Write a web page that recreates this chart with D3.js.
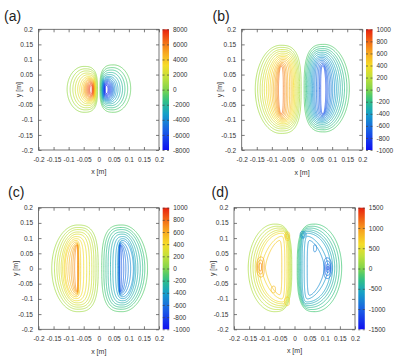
<!DOCTYPE html>
<html>
<head>
<meta charset="utf-8">
<script src="https://cdn.jsdelivr.net/npm/d3@7"></script>
<style>
  body { margin: 0; background: #fff; }
  svg { display: block; }
  text { font-family: "Liberation Sans", Arial, sans-serif; }
</style>
</head>
<body>
<svg id="chart" width="400" height="362"></svg>
<script>
// axis ticks (same for x and y in every panel)
const axisTicks = [-0.2, -0.15, -0.1, -0.05, 0, 0.05, 0.1, 0.15, 0.2];

// colour bar ticks per panel
const barTicksA = [-8000, -6000, -4000, -2000, 0, 2000, 4000, 6000, 8000];
const barTicksB = [-1000, -800, -600, -400, -200, 0, 200, 400, 600, 800, 1000];
const barTicksC = [-1000, -800, -600, -400, -200, 0, 200, 400, 600, 800, 1000];
const barTicksD = [-1500, -1000, -500, 0, 500, 1000, 1500];

// contour loops:
// [level, xmin, xmax, ymin, ymax, (where the top sits, 0 outer .. 1 inner), (outer roundness)]
const loopsA = [
  [500, -0.105, -0.004, -0.075, 0.077], [1000, -0.095, -0.006, -0.067, 0.069],
  [1500, -0.086, -0.008, -0.060, 0.062], [2000, -0.078, -0.010, -0.053, 0.055],
  [2500, -0.070, -0.011, -0.047, 0.049], [3000, -0.063, -0.012, -0.042, 0.043],
  [3500, -0.057, -0.013, -0.038, 0.039], [4000, -0.052, -0.014, -0.035, 0.036],
  [4500, -0.048, -0.015, -0.032, 0.033], [5000, -0.045, -0.016, -0.029, 0.030],
  [5500, -0.042, -0.017, -0.026, 0.027], [6000, -0.039, -0.018, -0.023, 0.024],
  [6500, -0.036, -0.019, -0.020, 0.021], [7000, -0.033, -0.020, -0.017, 0.018],
  [7500, -0.030, -0.022, -0.013, 0.014],
  [-500, 0.004, 0.106, -0.075, 0.082], [-1000, 0.006, 0.096, -0.067, 0.073],
  [-1500, 0.008, 0.087, -0.060, 0.065], [-2000, 0.010, 0.079, -0.053, 0.057],
  [-2500, 0.011, 0.071, -0.047, 0.050], [-3000, 0.012, 0.064, -0.042, 0.044],
  [-3500, 0.013, 0.058, -0.038, 0.040], [-4000, 0.014, 0.053, -0.035, 0.036],
  [-4500, 0.015, 0.049, -0.032, 0.033], [-5000, 0.016, 0.046, -0.029, 0.030],
  [-5500, 0.017, 0.043, -0.026, 0.027], [-6000, 0.018, 0.040, -0.023, 0.024],
  [-6500, 0.019, 0.037, -0.020, 0.021], [-7000, 0.020, 0.034, -0.017, 0.018],
  [-7500, 0.022, 0.031, -0.013, 0.014]
];

const loopsB = [
  [100, -0.155, -0.003, -0.145, 0.147], [150, -0.147, -0.008, -0.137, 0.140],
  [200, -0.139, -0.012, -0.130, 0.133], [250, -0.132, -0.016, -0.124, 0.127],
  [300, -0.125, -0.020, -0.118, 0.121], [350, -0.118, -0.024, -0.113, 0.115],
  [400, -0.112, -0.028, -0.108, 0.110], [450, -0.106, -0.032, -0.104, 0.105],
  [500, -0.100, -0.036, -0.100, 0.100], [550, -0.095, -0.041, -0.096, 0.095],
  [600, -0.090, -0.047, -0.092, 0.090], [650, -0.086, -0.052, -0.088, 0.086],
  [700, -0.082, -0.057, -0.084, 0.082], [750, -0.078, -0.062, -0.080, 0.078],
  [-100, 0.007, 0.157, -0.140, 0.150], [-150, 0.011, 0.149, -0.133, 0.143],
  [-200, 0.015, 0.141, -0.127, 0.136], [-250, 0.019, 0.134, -0.121, 0.130],
  [-300, 0.023, 0.127, -0.115, 0.124], [-350, 0.027, 0.120, -0.110, 0.118],
  [-400, 0.031, 0.114, -0.105, 0.112], [-450, 0.035, 0.108, -0.101, 0.107],
  [-500, 0.039, 0.102, -0.097, 0.102], [-550, 0.043, 0.097, -0.093, 0.097],
  [-600, 0.048, 0.092, -0.089, 0.092], [-650, 0.053, 0.087, -0.086, 0.087],
  [-700, 0.058, 0.083, -0.083, 0.083], [-750, 0.062, 0.079, -0.080, 0.079]
];

const loopsC = [
  [100, -0.156, -0.002, -0.142, 0.143], [150, -0.147, -0.009, -0.134, 0.135],
  [200, -0.139, -0.016, -0.127, 0.128], [250, -0.132, -0.023, -0.120, 0.120],
  [300, -0.125, -0.031, -0.113, 0.113], [350, -0.120, -0.040, -0.106, 0.105],
  [400, -0.115, -0.050, -0.099, 0.098, 0.6], [450, -0.112, -0.060, -0.093, 0.092, 0.7],
  [500, -0.106, -0.066, -0.088, 0.087, 0.8], [550, -0.099, -0.067, -0.084, 0.083, 0.85],
  [600, -0.092, -0.068, -0.081, 0.080, 0.85], [650, -0.086, -0.069, -0.078, 0.078, 0.85],
  [700, -0.080, -0.070, -0.076, 0.077, 0.85],
  [-100, 0.010, 0.162, -0.142, 0.143], [-150, 0.017, 0.153, -0.134, 0.135],
  [-200, 0.024, 0.146, -0.127, 0.128], [-250, 0.031, 0.138, -0.120, 0.120],
  [-300, 0.039, 0.130, -0.113, 0.113], [-350, 0.047, 0.123, -0.106, 0.105],
  [-400, 0.056, 0.118, -0.099, 0.098, 0.6], [-450, 0.063, 0.115, -0.093, 0.092, 0.7],
  [-500, 0.066, 0.106, -0.088, 0.087, 0.8], [-550, 0.067, 0.098, -0.084, 0.083, 0.85],
  [-600, 0.068, 0.090, -0.081, 0.080, 0.85], [-650, 0.069, 0.083, -0.078, 0.078, 0.85],
  [-700, 0.070, 0.076, -0.076, 0.077, 0.85]
];

const loopsD = [
  [200, -0.153, -0.009, -0.142, 0.146, 0.6], [275, -0.145, -0.012, -0.135, 0.139, 0.65],
  [350, -0.137, -0.015, -0.128, 0.133, 0.7], [425, -0.130, -0.018, -0.122, 0.127, 0.75],
  [500, -0.123, -0.021, -0.116, 0.122, 0.8], [575, -0.116, -0.025, -0.110, 0.116, 0.82],
  [650, -0.108, -0.032, -0.100, 0.106, 0.85, 1.6], [725, -0.096, -0.042, -0.086, 0.092, 0.85, 1.5],
  [800, -0.077, -0.063, -0.080, -0.058],
  [700, -0.032, -0.016, 0.092, 0.120], [750, -0.029, -0.019, 0.098, 0.114],
  [700, -0.033, -0.017, -0.122, -0.094],
  [900, -0.126, -0.100, -0.028, 0.038], [1000, -0.122, -0.105, -0.018, 0.028],
  [1100, -0.118, -0.109, -0.008, 0.018],
  [-200, 0.009, 0.156, -0.142, 0.146, 0.6], [-275, 0.012, 0.148, -0.135, 0.139, 0.65],
  [-350, 0.015, 0.140, -0.128, 0.133, 0.7], [-425, 0.018, 0.133, -0.122, 0.127, 0.75],
  [-500, 0.021, 0.126, -0.116, 0.122, 0.8], [-575, 0.025, 0.119, -0.110, 0.116, 0.82],
  [-650, 0.032, 0.111, -0.100, 0.106, 0.85, 1.6], [-725, 0.042, 0.099, -0.088, 0.092, 0.85, 1.5],
  [-700, 0.019, 0.039, 0.100, 0.122], [-750, 0.023, 0.035, 0.104, 0.117],
  [-800, 0.063, 0.073, 0.055, 0.078],
  [-900, 0.097, 0.124, -0.033, 0.035], [-1000, 0.101, 0.120, -0.023, 0.025],
  [-1100, 0.105, 0.117, -0.013, 0.015], [-1200, 0.108, 0.114, -0.005, 0.007]
];

// blue -> teal -> green -> yellow -> red
var palette = d3.scaleLinear()
  .domain([0, 0.15, 0.3, 0.42, 0.5, 0.6, 0.7, 0.82, 0.92, 1])
  .range(["#1010f0", "#1a5ae6", "#16a0c8", "#34c47c", "#80d44c", "#c0e03c",
          "#f5dc28", "#f7a020", "#f05a14", "#e8200e"])
  .clamp(true);

var panels = [
  {label: "(a)", lx: 4, ly: 21, loops: loopsA, bar: barTicksA,
   x0: 38.5, x1: 159, y0: 29.3, y1: 150, bx: 162.5, ylab: 18.3, xlab: 174},
  {label: "(b)", lx: 212.5, ly: 21, loops: loopsB, bar: barTicksB,
   x0: 241.7, x1: 362.3, y0: 29.3, y1: 150, bx: 366, ylab: 219.3, xlab: 174.5},
  {label: "(c)", lx: 8, ly: 196.5, loops: loopsC, bar: barTicksC,
   x0: 38.5, x1: 159, y0: 207.7, y1: 329.3, bx: 162.7, ylab: 15.5, xlab: 353.5},
  {label: "(d)", lx: 211.5, ly: 196.5, loops: loopsD, bar: barTicksD,
   x0: 234, x1: 355, y0: 207.7, y1: 329.3, bx: 358.3, ylab: 212, xlab: 353}
];

var svg = d3.select("#chart");
var defs = svg.append("defs");

// D-shaped closed loop: elliptic on the outer side, flatter on the side facing x = 0
function loopPoints(d, x, y) {
  var lo = d[1], hi = d[2], y0 = d[3], y1 = d[4];
  var f = d[5] === undefined ? 0.55 : d[5], k = d[6] || 2;
  var leftLobe = (lo + hi) / 2 < 0;
  var outer = leftLobe ? lo : hi, inner = leftLobe ? hi : lo;
  var xt = outer + f * (inner - outer);
  var cy = (y0 + y1) / 2, ry = (y1 - y0) / 2;
  return d3.range(0, 2 * Math.PI, Math.PI / 72).map(function(t) {
    var c = Math.cos(t), s = Math.sin(t);
    var n = c > 0 ? 3 : k;               // c > 0 -> inner side
    var u = Math.pow(Math.abs(c), 2 / n);
    var v = Math.sign(s) * Math.pow(Math.abs(s), 2 / n);
    var px = c > 0 ? xt + u * (inner - xt) : xt + u * (outer - xt);
    return [x(px), y(cy + ry * v)];
  });
}

panels.forEach(function(p, i) {
  var g = svg.append("g");
  var x = d3.scaleLinear().domain([-0.2, 0.2]).range([p.x0, p.x1]);
  var y = d3.scaleLinear().domain([-0.2, 0.2]).range([p.y1, p.y0]);
  var vmin = p.bar[0], vmax = p.bar[p.bar.length - 1];
  var level = d3.scaleLinear().domain([vmin, vmax]).range([0, 1]);

  // contours
  var line = d3.line().curve(d3.curveCardinalClosed.tension(0.5));
  g.append("g")
    .selectAll("path")
    .data(p.loops)
    .enter().append("path")
    .attr("d", function(d) { return line(loopPoints(d, x, y)); })
    .attr("fill", "none")
    .attr("stroke", function(d) { return palette(level(d[0])); })
    .attr("stroke-width", 0.75);

  // axes, ticks pointing inward on all four sides
  var fmt = function(d) { return String(d); };
  g.append("g").attr("transform", "translate(0," + p.y1 + ")")
    .call(d3.axisBottom(x).tickValues(axisTicks).tickSizeInner(-3).tickSizeOuter(0)
      .tickPadding(7).tickFormat(fmt));
  g.append("g").attr("transform", "translate(0," + p.y0 + ")")
    .call(d3.axisTop(x).tickValues(axisTicks).tickSizeInner(-3).tickSizeOuter(0).tickFormat(""));
  g.append("g").attr("transform", "translate(" + p.x0 + ",0)")
    .call(d3.axisLeft(y).tickValues(axisTicks).tickSizeInner(-3).tickSizeOuter(0)
      .tickPadding(5.5).tickFormat(fmt));
  g.append("g").attr("transform", "translate(" + p.x1 + ",0)")
    .call(d3.axisRight(y).tickValues(axisTicks).tickSizeInner(-3).tickSizeOuter(0).tickFormat(""));

  g.append("rect")
    .attr("x", p.x0).attr("y", p.y0)
    .attr("width", p.x1 - p.x0).attr("height", p.y1 - p.y0)
    .attr("fill", "none").attr("stroke", "#555").attr("stroke-width", 0.8);

  // colour bar
  var grad = defs.append("linearGradient").attr("id", "grad" + i)
    .attr("x1", 0).attr("y1", 1).attr("x2", 0).attr("y2", 0);
  grad.selectAll("stop")
    .data(d3.range(0, 1.0001, 0.05))
    .enter().append("stop")
    .attr("offset", function(d) { return d; })
    .attr("stop-color", function(d) { return palette(d); });
  var bw = 6.5;
  g.append("rect")
    .attr("x", p.bx).attr("y", p.y0)
    .attr("width", bw).attr("height", p.y1 - p.y0)
    .attr("fill", "url(#grad" + i + ")");
  var by = d3.scaleLinear().domain([vmin, vmax]).range([p.y1, p.y0]);
  g.append("g").attr("transform", "translate(" + (p.bx + bw) + ",0)")
    .call(d3.axisRight(by).tickValues(p.bar).tickSizeInner(-2).tickSizeOuter(0)
      .tickPadding(4).tickFormat(fmt));
  g.append("g").attr("transform", "translate(" + p.bx + ",0)")
    .call(d3.axisLeft(by).tickValues(p.bar).tickSizeInner(-2).tickSizeOuter(0).tickFormat(""));

  g.selectAll(".domain").remove();
  g.selectAll(".tick line").attr("stroke", "#444").attr("stroke-width", 0.7);
  g.selectAll(".tick text").attr("fill", "#333").style("font-size", "6.5px");

  // labels
  g.append("text")
    .attr("x", (p.x0 + p.x1) / 2).attr("y", p.xlab)
    .attr("text-anchor", "middle").attr("fill", "#333")
    .style("font-size", "7px").text("x [m]");
  g.append("text")
    .attr("transform", "translate(" + (p.ylab + 2.5) + "," + (p.y0 + p.y1) / 2 + ") rotate(-90)")
    .attr("text-anchor", "middle").attr("fill", "#333")
    .style("font-size", "7px").text("y [m]");
  g.append("text")
    .attr("x", p.lx).attr("y", p.ly)
    .attr("fill", "#222").style("font-size", "14px")
    .text(p.label);
});
</script>
</body>
</html>
